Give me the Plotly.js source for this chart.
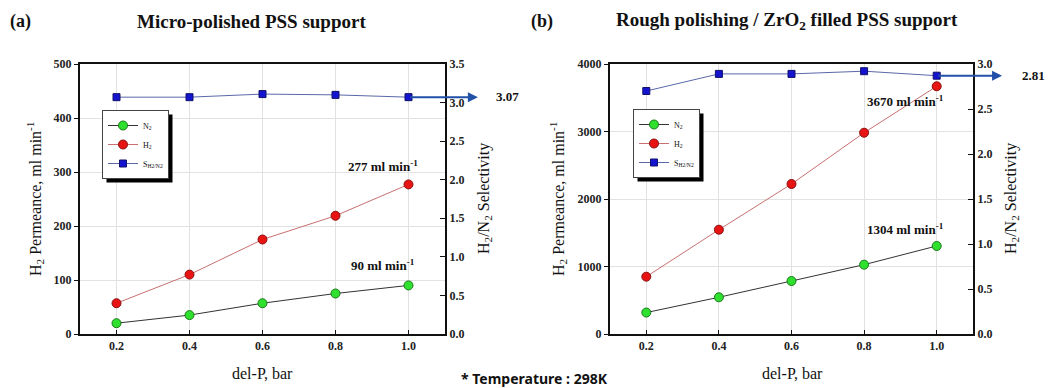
<!DOCTYPE html>
<html><head><meta charset="utf-8">
<script src="https://cdn.plot.ly/plotly-3.0.1.min.js"></script>
<style>body{margin:0;background:#fff}#c{width:1049px;height:388px}</style>
</head><body><div id="c"></div>
<script>
const deltaP = [0.2, 0.4, 0.6, 0.8, 1.0];
const xTickLabels = ['0.2', '0.4', '0.6', '0.8', '1.0'];
// Panel (a) Micro-polished PSS support
const a_N2 = [20, 35, 57, 75, 90];
const a_H2 = [57, 110, 175, 219, 277];
const a_Sel = [3.07, 3.07, 3.11, 3.10, 3.07];
// Panel (b) Rough polishing / ZrO2 filled PSS support
const b_N2 = [318, 544, 785, 1027, 1304];
const b_H2 = [849, 1545, 2222, 2982, 3670];
const b_Sel = [2.70, 2.89, 2.89, 2.92, 2.87];
const a_finalSelLabel = '3.07', b_finalSelLabel = '2.81';

const W = 1049, H = 388;
const px = v => v / W, py = v => 1 - v / H;
const SERIF = 'Liberation Serif';

function trio(N2, H2, S, xa, yL, yR, leg) {
  return [
    {x: deltaP, y: N2, xaxis: xa, yaxis: yL, name: 'N<sub>2</sub>', legend: leg, mode: 'lines+markers',
     line: {color: '#333', width: 1}, marker: {symbol: 'circle', size: 9, color: '#2fe02f', line: {color: '#1a7a1a', width: 1}}},
    {x: deltaP, y: H2, xaxis: xa, yaxis: yL, name: 'H<sub>2</sub>', legend: leg, mode: 'lines+markers',
     line: {color: '#c87070', width: 1}, marker: {symbol: 'circle', size: 9, color: '#e81414', line: {color: '#8a1010', width: 1}}},
    {x: deltaP, y: S, xaxis: xa, yaxis: yR, name: 'S<sub>H2/N2</sub>', legend: leg, mode: 'lines+markers',
     line: {color: '#5a68a8', width: 1}, marker: {symbol: 'square', size: 7, color: '#1414d0', line: {color: '#10106a', width: 1}}}
  ];
}
const data = [...trio(a_N2, a_H2, a_Sel, 'x', 'y', 'y2', 'legend'), ...trio(b_N2, b_H2, b_Sel, 'x2', 'y3', 'y4', 'legend2')];

const tickFont = {family: SERIF, size: 12, color: '#222', weight: 'bold'};
function xax(dom, anchor) {
  return {domain: dom, anchor: anchor, range: [0.1, 1.1], tickvals: deltaP, ticktext: xTickLabels,
    showline: true, mirror: true, linewidth: 2, linecolor: '#111', showgrid: true, gridcolor: '#e2e2e2',
    ticks: 'inside', ticklen: 4, tickcolor: '#111', tickfont: tickFont, zeroline: false};
}
function yLeft(anchor, max, dt) {
  return {domain: [54 / H, 324 / H], anchor: anchor, range: [0, max], dtick: dt, showline: true, linewidth: 2,
    linecolor: '#111', ticks: 'outside', ticklen: 4, tickcolor: '#111', showgrid: true, gridcolor: '#e2e2e2',
    tickfont: tickFont, zeroline: false};
}
function yRight(anchor, over, max) {
  return {domain: [54 / H, 324 / H], anchor: anchor, overlaying: over, side: 'right', range: [0, max], dtick: 0.5,
    tickformat: '.1f', showline: true, linewidth: 2, linecolor: '#111', ticks: 'inside', ticklen: 5, tickcolor: '#111',
    showgrid: false, tickfont: tickFont, zeroline: false};
}

const ann = [];
function txt(x, y, text, size, opts) {
  ann.push(Object.assign({xref: 'paper', yref: 'paper', x: px(x), y: py(y), text: text, showarrow: false,
    font: {family: SERIF, size: size, color: '#111'}, xanchor: 'center', yanchor: 'middle'}, opts || {}));
}
const boldF = s => ({family: SERIF, size: s, color: '#111', weight: 'bold'});
// Panel labels & titles
txt(20, 21, '(a)', 18, {font: boldF(18)});
txt(251, 21, 'Micro-polished PSS support', 19, {font: boldF(19)});
txt(542, 21, '(b)', 18, {font: boldF(18)});
txt(787, 21, 'Rough polishing / ZrO<sub>2</sub> filled PSS support', 19, {font: boldF(19)});
// Axis titles
txt(35, 199, 'H<sub>2</sub> Permeance, ml min<sup>-1</sup>', 16, {textangle: -90});
txt(485, 199, 'H<sub>2</sub>/N<sub>2</sub> Selectivity', 16, {textangle: -90});
txt(558, 199, 'H<sub>2</sub> Permeance, ml min<sup>-1</sup>', 16, {textangle: -90});
txt(1012, 199, 'H<sub>2</sub>/N<sub>2</sub> Selectivity', 16, {textangle: -90});
txt(262, 373, 'del-P, bar', 16);
txt(792, 373, 'del-P, bar', 16);
txt(534, 378, '* Temperature : 298K', 14, {font: {family: 'Noto Sans', size: 14, color: '#111', weight: 'bold'}});
// Value labels
txt(383, 166, a_H2[4] + ' ml min<sup>-1</sup>', 13, {font: boldF(13)});
txt(383, 265, a_N2[4] + ' ml min<sup>-1</sup>', 13, {font: boldF(13)});
txt(905, 101, b_H2[4] + ' ml min<sup>-1</sup>', 13, {font: boldF(13)});
txt(905, 229, b_N2[4] + ' ml min<sup>-1</sup>', 13, {font: boldF(13)});
txt(507, 96, a_finalSelLabel, 13, {font: boldF(13)});
txt(1033, 76, b_finalSelLabel, 13, {font: boldF(13)});
// Arrows from the last selectivity points
ann.push({xref: 'x', yref: 'y2', axref: 'x', ayref: 'y2', x: 1.19, y: a_Sel[4], ax: deltaP[4], ay: a_Sel[4],
  text: '', showarrow: true, arrowhead: 2, arrowsize: 1, arrowwidth: 2, arrowcolor: '#2050a8', standoff: 0, startstandoff: 0});
ann.push({xref: 'x2', yref: 'y4', axref: 'x2', ayref: 'y4', x: 1.18, y: b_Sel[4], ax: deltaP[4], ay: b_Sel[4],
  text: '', showarrow: true, arrowhead: 2, arrowsize: 1, arrowwidth: 2, arrowcolor: '#2050a8', standoff: 0, startstandoff: 0});

const legFont = {family: SERIF, size: 8, color: '#111'};
const legBase = {bgcolor: '#fff', bordercolor: '#444', borderwidth: 1, font: legFont, xanchor: 'left', yanchor: 'top',
  itemwidth: 30, tracegroupgap: 0};

const layout = {
  width: W, height: H, margin: {l: 0, r: 0, t: 0, b: 0}, paper_bgcolor: '#fff', plot_bgcolor: '#fff',
  showlegend: true,
  xaxis: xax([80 / W, 445 / W], 'y'), yaxis: yLeft('x', 500, 100), yaxis2: yRight('x', 'y', 3.5),
  xaxis2: xax([610 / W, 973 / W], 'y3'), yaxis3: yLeft('x2', 4000, 1000), yaxis4: yRight('x2', 'y3', 3.0),
  legend: Object.assign({}, legBase, {x: px(102), y: py(110)}),
  legend2: Object.assign({}, legBase, {x: px(633), y: py(109)}),
  annotations: ann, shapes: []
};
const gd = document.getElementById('c');
Plotly.newPlot(gd, data, layout, {staticPlot: true}).then(() => {
  // drop shadows behind each legend box, sized from the rendered legend
  const host = gd.getBoundingClientRect();
  const shapes = [];
  ['legend', 'legend2'].forEach(id => {
    const bg = gd.querySelector('g.' + id + ' rect.bg');
    if (!bg) return;
    const r = bg.getBoundingClientRect();
    const L = r.left - host.left, T = r.top - host.top;
    shapes.push({type: 'rect', xref: 'paper', yref: 'paper', x0: px(L + 4), x1: px(L + r.width + 4),
      y0: py(T + r.height + 4), y1: py(T + 4), fillcolor: '#000', line: {width: 0}});
  });
  return Plotly.relayout(gd, {shapes: shapes});
});
</script></body></html>
